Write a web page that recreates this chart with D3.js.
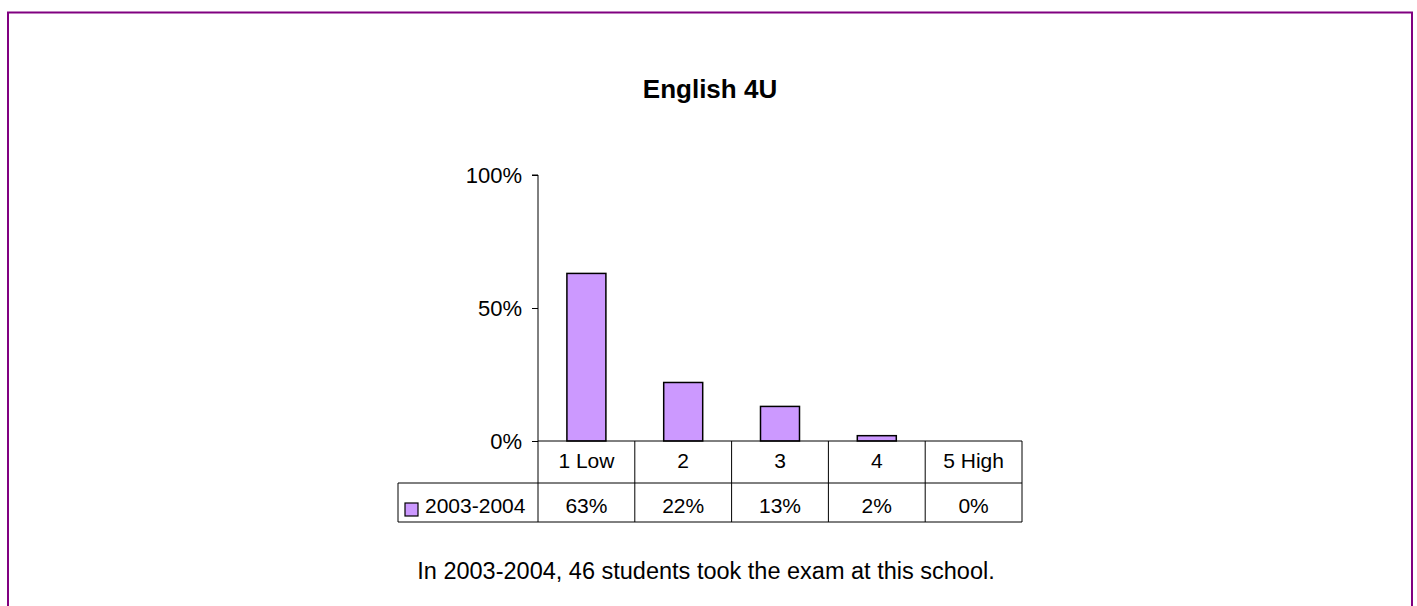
<!DOCTYPE html>
<html>
<head>
<meta charset="utf-8">
<script src="https://cdn.jsdelivr.net/npm/d3@7"></script>
<style>
  body { margin: 0; background: #fff; }
  svg { display: block; font-family: "Liberation Sans", Arial, sans-serif; }
</style>
</head>
<body>
<svg id="chart" width="1417" height="606"></svg>
<script>
// chart data
var categories = ["1 Low", "2", "3", "4", "5 High"]
var seriesName = "2003-2004"
var values = [0.63, 0.22, 0.13, 0.02, 0.00]
var valueLabels = ["63%", "22%", "13%", "2%", "0%"]
var yTicks = [0, 0.5, 1]
var title = "English 4U"
var caption = "In 2003-2004, 46 students took the exam at this school."

var svg = d3.select("#chart")
var fill = "#cc99ff"

// outer frame (bottom edge runs off the page)
svg.append("path")
   .attr("d", "M8,620 V12.5 H1412 V620")
   .attr("fill", "none")
   .attr("stroke", "#800080")
   .attr("stroke-width", 2)

svg.append("text")
   .attr("x", 710).attr("y", 98)
   .attr("text-anchor", "middle")
   .attr("font-size", 26).attr("font-weight", "bold")
   .text(title)

var plot = {left: 538, right: 1022, top: 175, bottom: 441}
var xScale = d3.scaleBand().domain(categories).range([plot.left, plot.right]).paddingInner(0).paddingOuter(0)
var yScale = d3.scaleLinear().domain([0, 1]).range([plot.bottom, plot.top])

// y axis
var yAxis = svg.append("g")
   .attr("transform", "translate(" + plot.left + ",0)")
   .call(d3.axisLeft(yScale).tickValues(yTicks).tickFormat(d3.format(".0%")).tickSize(6).tickPadding(10))
yAxis.select(".domain").attr("stroke", "#000").attr("d", "M-6," + yScale(1) + "H0V" + yScale(0))
yAxis.selectAll("text").attr("font-size", 22).attr("font-family", "Liberation Sans, Arial, sans-serif").attr("fill", "#000")
yAxis.selectAll("line").attr("stroke", "#000")

// bars
var barW = 39
svg.selectAll("rect.bar")
   .data(values)
   .enter().append("rect")
   .attr("class", "bar")
   .attr("x", function (d, i) { return xScale(categories[i]) + xScale.bandwidth() / 2 - barW / 2 })
   .attr("y", function (d) { return yScale(d) })
   .attr("width", barW)
   .attr("height", function (d) { return yScale(0) - yScale(d) })
   .attr("fill", fill)
   .attr("stroke", "#000")
   .attr("stroke-width", 1.5)
   .style("display", function (d) { return d > 0 ? null : "none" })

// data table under the axis
var row1 = plot.bottom, row2 = 483, row3 = 522, tableLeft = 398
var grid = svg.append("g").attr("stroke", "#000").attr("stroke-width", 1).attr("fill", "none")
grid.append("line").attr("x1", plot.left).attr("x2", plot.right).attr("y1", row1).attr("y2", row1)
grid.append("line").attr("x1", tableLeft).attr("x2", plot.right).attr("y1", row2).attr("y2", row2)
grid.append("line").attr("x1", tableLeft).attr("x2", plot.right).attr("y1", row3).attr("y2", row3)
grid.append("line").attr("x1", tableLeft).attr("x2", tableLeft).attr("y1", row2).attr("y2", row3)
categories.forEach(function (c) {
  grid.append("line").attr("x1", xScale(c)).attr("x2", xScale(c)).attr("y1", row1).attr("y2", row3)
})
grid.append("line").attr("x1", plot.right).attr("x2", plot.right).attr("y1", row1).attr("y2", row3)

svg.selectAll("text.cat")
   .data(categories)
   .enter().append("text")
   .attr("class", "cat")
   .attr("x", function (d) { return xScale(d) + xScale.bandwidth() / 2 })
   .attr("y", 468)
   .attr("text-anchor", "middle").attr("font-size", 21)
   .text(function (d) { return d })

svg.selectAll("text.val")
   .data(valueLabels)
   .enter().append("text")
   .attr("class", "val")
   .attr("x", function (d, i) { return xScale(categories[i]) + xScale.bandwidth() / 2 })
   .attr("y", 513)
   .attr("text-anchor", "middle").attr("font-size", 21)
   .text(function (d) { return d })

// legend key in the table
svg.append("rect")
   .attr("x", 405).attr("y", 503).attr("width", 13).attr("height", 13)
   .attr("fill", fill).attr("stroke", "#000").attr("stroke-width", 1.2)
svg.append("text")
   .attr("x", 425).attr("y", 513)
   .attr("font-size", 21)
   .text(seriesName)

svg.append("text")
   .attr("x", 706).attr("y", 579)
   .attr("text-anchor", "middle").attr("font-size", 23.5)
   .text(caption)
</script>
</body>
</html>
